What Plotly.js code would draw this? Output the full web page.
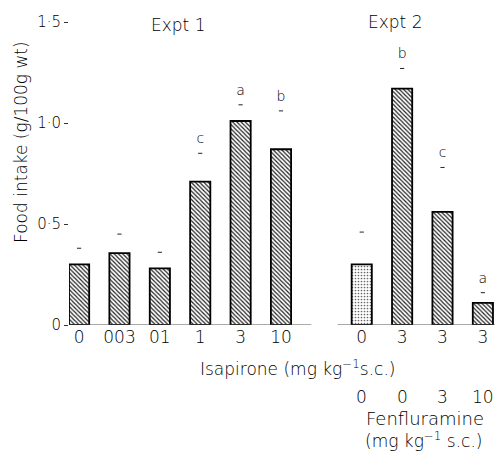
<!DOCTYPE html>
<html>
<head>
<meta charset="utf-8">
<script src="https://cdn.plot.ly/plotly-3.0.1.min.js"></script>
<style>html,body{margin:0;padding:0;background:#fff;}#chart{width:495px;height:452px;}</style>
</head>
<body>
<div id="chart"></div>
<script>
// Expt 1: isapirone dose series
const expt1Pos = [0, 1, 2, 3, 4, 5];
const expt1Isapirone = ["0", "003", "01", "1", "3", "10"];
const expt1Values = [0.30, 0.356, 0.28, 0.71, 1.01, 0.87];
const expt1ErrTop = [0.38, 0.45, 0.36, 0.85, 1.09, 1.06];
const expt1Letters = ["", "", "", "c", "a", "b"];

// Expt 2: isapirone + fenfluramine
const expt2Pos = [7, 8, 9, 10];
const expt2Isapirone = ["0", "3", "3", "3"];
const expt2Fenfluramine = ["0", "0", "3", "10"];
const expt2Values = [0.30, 1.17, 0.56, 0.11];
const expt2ErrTop = [0.46, 1.27, 0.78, 0.16];
const expt2Letters = ["", "b", "c", "a"];

const yTickVals = [0, 0.5, 1.0, 1.5];
const yTickText = ["0", "0·5", "1·0", "1·5"];

const FONT = "DejaVu Sans, sans-serif";
const TXT = "#000000";
const W = 200;

const allPos = expt1Pos.concat(expt2Pos);
const allErr = expt1ErrTop.concat(expt2ErrTop);
const allLetters = expt1Letters.concat(expt2Letters);
const lx = [], ly = [], lt = [];
allLetters.forEach((t, i) => { if (t) { lx.push(allPos[i]); ly.push(allErr[i]); lt.push(t); } });

const traces = [
  {
    type: "bar", x: expt1Pos, y: expt1Values, width: 0.5,
    marker: {color: "#ffffff", pattern: {shape: "\\", fgcolor: "#222", bgcolor: "#ffffff", size: 3, solidity: 0.4},
      line: {color: "#000", width: 1.8}},
    hoverinfo: "skip", showlegend: false
  },
  {
    type: "bar", x: expt2Pos, y: expt2Values, width: 0.5,
    marker: {color: "#ffffff",
      pattern: {shape: [".", "\\", "\\", "\\"], fgcolor: ["#666", "#222", "#222", "#222"], bgcolor: "#ffffff", size: [3, 3, 3, 3], solidity: [0.25, 0.4, 0.4, 0.4]},
      line: {color: "#000", width: 1.8}},
    hoverinfo: "skip", showlegend: false
  },
  {
    type: "scatter", mode: "markers", x: allPos, y: allErr,
    marker: {symbol: "line-ew", size: 3, line: {color: "#222", width: 1}},
    hoverinfo: "skip", showlegend: false, cliponaxis: false
  },
  {
    type: "scatter", mode: "markers+text", x: lx, y: ly, text: lt,
    textposition: "top center",
    marker: {size: 9, opacity: 0},
    textfont: {family: FONT, size: 14, color: TXT, weight: W},
    hoverinfo: "skip", showlegend: false, cliponaxis: false
  }
];

const ann = [];
function addAnn(text, xpx, ypx, size, extra) {
  ann.push(Object.assign({
    text: text, xref: "paper", yref: "paper",
    x: (xpx - 69) / 426, y: (325 - ypx) / 303,
    xanchor: "center", yanchor: "middle", showarrow: false,
    font: {family: FONT, size: size, color: TXT, weight: W}
  }, extra || {}));
}
addAnn("Expt 1", 178, 25, 17);
addAnn("Expt 2", 395, 22, 17);
addAnn("Isapirone (mg kg<sup>−1</sup>s.c.)", 298, 368, 17);
addAnn("Food intake (g/100g wt)", 21, 142, 17, {textangle: -90});
expt2Pos.forEach((p, i) => {
  ann.push({text: expt2Fenfluramine[i], xref: "x", yref: "paper", x: p, y: (325 - 397) / 303,
    xanchor: "center", yanchor: "middle", showarrow: false,
    font: {family: FONT, size: 17, color: TXT, weight: W}});
});
addAnn("Fenfluramine", 425, 418, 18);
addAnn("(mg kg<sup>−1</sup> s.c.)", 423, 440, 17);

const shapes = [
  {type: "line", xref: "x", yref: "y", x0: -0.25, x1: 5.75, y0: 0, y1: 0, line: {color: "#555", width: 1}},
  {type: "line", xref: "x", yref: "y", x0: 6.4, x1: 10.3, y0: 0, y1: 0, line: {color: "#555", width: 1}}
];

const layout = {
  width: 495, height: 452,
  margin: {l: 69, r: 0, t: 22, b: 127},
  paper_bgcolor: "#ffffff", plot_bgcolor: "#ffffff",
  font: {family: FONT, color: TXT},
  bargap: 0,
  xaxis: {
    range: [-0.25, 10.3], showgrid: false, zeroline: false, showline: false,
    tickvals: allPos, ticktext: expt1Isapirone.concat(expt2Isapirone),
    ticks: "", tickfont: {family: FONT, size: 17, color: TXT, weight: W}
  },
  yaxis: {
    range: [0, 1.5], showgrid: false, zeroline: false, showline: false,
    tickvals: yTickVals, ticktext: yTickText,
    ticks: "outside", ticklen: 4, tickcolor: "#333", tickwidth: 1,
    tickfont: {family: FONT, size: 15, color: TXT, weight: W}
  },
  annotations: ann,
  shapes: shapes
};

Plotly.newPlot("chart", traces, layout, {staticPlot: true, displayModeBar: false});
</script>
</body>
</html>
